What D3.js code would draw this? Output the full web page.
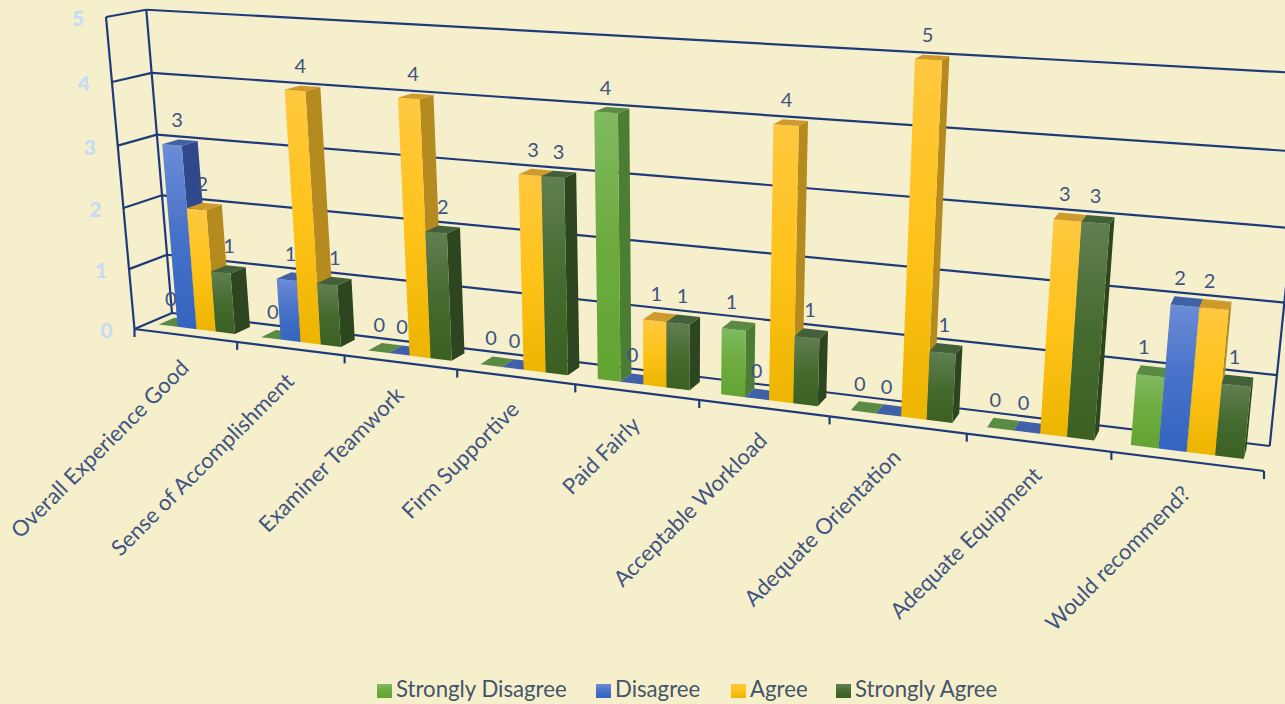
<!DOCTYPE html>
<html>
<head>
<meta charset="utf-8">
<script src="https://cdn.jsdelivr.net/npm/d3@7"></script>
<style>
  html, body { margin: 0; padding: 0; background: #f5f0cb; overflow: hidden; }
  text { font-family: Lato, "Open Sans", sans-serif; }
</style>
</head>
<body>
<div id="chart"></div>
<script>
const categories = ['Overall Experience Good', 'Sense of Accomplishment', 'Examiner Teamwork', 'Firm Supportive',
    'Paid Fairly', 'Acceptable Workload', 'Adequate Orientation', 'Adequate Equipment', 'Would recommend?'];
const seriesNames = ['Strongly Disagree', 'Disagree', 'Agree', 'Strongly Agree'];
const stronglyDisagree = [0, 0, 0, 0, 4, 1, 0, 0, 1];
const disagree = [3, 1, 0, 0, 0, 0, 0, 0, 2];
const agree = [2, 4, 4, 3, 1, 4, 5, 3, 2];
const stronglyAgree = [1, 1, 2, 3, 1, 1, 1, 3, 1];
const seriesValues = [stronglyDisagree, disagree, agree, stronglyAgree];
const valueTicks = [0, 1, 2, 3, 4, 5];

const width = 1285;
const height = 704;

// face colours per series: front top, front mid, front bottom, side, top
const palette = [
    ['#80b960', '#6dab3f', '#62a432', '#4b7d33', '#5b8a45'],
    ['#6c8cd6', '#4671c8', '#3365c0', '#30488c', '#4060a8'],
    ['#ffc83f', '#ffc31a', '#edb400', '#b58a1e', '#cf9a2c'],
    ['#617f50', '#466b30', '#3b6022', '#2d4620', '#42603a']
];

// corners of the box in screen space, plus perspective weights
const origin = [134.5, 329];
const alongEnd = [1264, 471];
const depthEnd = [172, 313];
const upEnd = [106, 17];
const wAlong = 0.80, wDepth = 1.03, wUp = 0.95;

function project(u, d, v) {
    let w = 1 + (wAlong - 1) * u + (wDepth - 1) * d + (wUp - 1) * v;
    let h = [0, 1].map(k => origin[k]
        + u * (wAlong * alongEnd[k] - origin[k])
        + d * (wDepth * depthEnd[k] - origin[k])
        + v * (wUp * upEnd[k] - origin[k]));
    return [h[0] / w, h[1] / w];
}

let xScale = d3.scaleBand().domain(categories).range([0, 1]);
let barScale = d3.scaleBand().domain(seriesNames).range([0.105, 0.855]);
let yScale = d3.scaleLinear().domain([0, 5]).range([0, 1]);
let depthFront = 0.36, depthBack = 0.78;

let svg = d3.select('#chart').append('svg')
    .attr('width', width)
    .attr('height', height)
    .style('display', 'block');

let defs = svg.append('defs');
palette.forEach((p, i) => {
    let grad = defs.append('linearGradient')
        .attr('id', 'front' + i)
        .attr('x1', 0).attr('x2', 0).attr('y1', 0).attr('y2', 1);
    grad.append('stop').attr('offset', '0%').attr('stop-color', p[0]);
    grad.append('stop').attr('offset', '50%').attr('stop-color', p[1]);
    grad.append('stop').attr('offset', '100%').attr('stop-color', p[2]);
});

const lineColor = '#1f3a7a';

function gridLine(a, b) {
    svg.append('line')
        .attr('x1', a[0]).attr('y1', a[1])
        .attr('x2', b[0]).attr('y2', b[1])
        .attr('stroke', lineColor)
        .attr('stroke-width', 2.2);
}

// walls and floor
valueTicks.forEach(t => {
    let v = yScale(t);
    gridLine(project(0, 0, v), project(0, 1, v));
    gridLine(project(0, 1, v), project(1, 1, v));
});
gridLine(project(0, 0, 0), project(0, 0, 1));
gridLine(project(0, 1, 0), project(0, 1, 1));
gridLine(project(1, 1, 0), project(1, 1, 1));
gridLine(project(0, 0, 0), project(1, 0, 0));

// category ticks
xScale.domain().concat([null]).forEach(c => {
    let u = c === null ? 1 : xScale(c);
    let p = project(u, 0, 0);
    gridLine(p, [p[0], p[1] + 8]);
});

function poly(points, fill) {
    svg.append('polygon')
        .attr('points', points.map(p => p.join(',')).join(' '))
        .attr('fill', fill);
}

// bars, left to right so each one covers the side of the one before
categories.forEach((cat, c) => {
    seriesNames.forEach((name, s) => {
        let value = seriesValues[s][c];
        let u0 = xScale(cat) + barScale(name) * xScale.bandwidth();
        let u1 = u0 + barScale.bandwidth() * xScale.bandwidth();
        let v = yScale(value);
        let d0 = depthFront, d1 = depthBack;
        let p = palette[s];
        if (value > 0) {
            poly([project(u1, d0, 0), project(u1, d1, 0), project(u1, d1, v), project(u1, d0, v)], p[3]);
            poly([project(u0, d0, 0), project(u1, d0, 0), project(u1, d0, v), project(u0, d0, v)], 'url(#front' + s + ')');
        }
        poly([project(u0, d0, v), project(u1, d0, v), project(u1, d1, v), project(u0, d1, v)], p[4]);
    });
});

// data labels on top of everything
const labelShift = [-10, -8, -7, -4];
categories.forEach((cat, c) => {
    seriesNames.forEach((name, s) => {
        let value = seriesValues[s][c];
        let u = xScale(cat) + (barScale(name) + barScale.bandwidth() / 2) * xScale.bandwidth();
        let p = project(u, 0.7, yScale(value));
        svg.append('text')
            .attr('x', p[0] + labelShift[s])
            .attr('y', p[1] - 14)
            .attr('text-anchor', 'middle')
            .attr('font-size', 20)
            .attr('fill', '#3f5482')
            .text(value);
    });
});

// value axis labels
valueTicks.forEach(t => {
    let p = project(0, 0, yScale(t));
    svg.append('text')
        .attr('x', p[0] - 28)
        .attr('y', p[1] + 9)
        .attr('text-anchor', 'middle')
        .attr('font-size', 21)
        .attr('font-weight', 900)
        .attr('fill', '#c6dcf4')
        .text(t);
});

// category labels
categories.forEach(cat => {
    let p = project(xScale(cat) + xScale.bandwidth() / 2, 0, 0);
    let lx = p[0] + 5, ly = p[1] + 34;
    svg.append('text')
        .attr('transform', 'translate(' + lx + ',' + ly + ') rotate(-45)')
        .attr('text-anchor', 'end')
        .attr('font-size', 22)
        .attr('fill', '#3f5482')
        .text(cat);
});

// legend
const legendX = [377, 596, 731, 836];
seriesNames.forEach((name, s) => {
    svg.append('rect')
        .attr('x', legendX[s]).attr('y', 684)
        .attr('width', 15).attr('height', 14)
        .attr('fill', 'url(#front' + s + ')');
    svg.append('text')
        .attr('x', legendX[s] + 19)
        .attr('y', 697)
        .attr('font-size', 22.2)
        .attr('fill', '#44546a')
        .text(name);
});
</script>
</body>
</html>
